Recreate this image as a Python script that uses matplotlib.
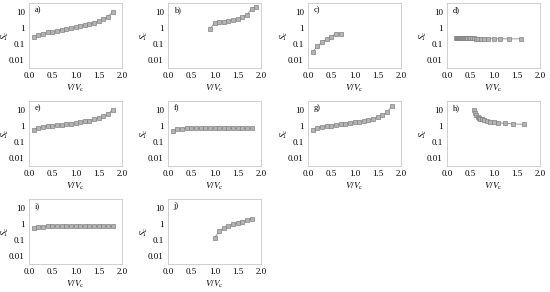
import matplotlib
matplotlib.use("Agg")
import matplotlib.pyplot as plt

plt.rcParams['font.family'] = ['Liberation Serif', 'DejaVu Serif']
plt.rcParams['mathtext.fontset'] = 'stix'

# panel data: V/Vc and Sc
xa = [0.1, 0.2, 0.3, 0.4, 0.5, 0.6, 0.7, 0.8, 0.9, 1.0, 1.1, 1.2, 1.3, 1.4, 1.5, 1.6, 1.7, 1.8]
ya = [0.25, 0.35, 0.42, 0.5, 0.57, 0.65, 0.72, 0.82, 0.95, 1.1, 1.25, 1.45, 1.7, 2.0, 2.5, 3.3, 5.0, 9.5]

xb = [0.9, 1.0, 1.1, 1.2, 1.3, 1.4, 1.5, 1.6, 1.7, 1.8, 1.9]
yb = [0.8, 2.0, 2.2, 2.4, 2.7, 3.0, 3.5, 4.5, 6.5, 15.0, 19.0]

xc = [0.1, 0.2, 0.3, 0.4, 0.5, 0.6, 0.7]
yc = [0.03, 0.07, 0.12, 0.19, 0.28, 0.42, 0.42]

xd = [0.2, 0.205, 0.21, 0.215, 0.22, 0.23, 0.235, 0.24, 0.25, 0.26, 0.27, 0.28,
      0.29, 0.30, 0.31, 0.32, 0.33, 0.35, 0.36, 0.38, 0.4, 0.42, 0.44, 0.47,
      0.5, 0.53, 0.57, 0.62, 0.67, 0.73, 0.8, 0.89, 1.0, 1.14, 1.33, 1.6]
yd = [0.24, 0.24, 0.24, 0.24, 0.24, 0.235, 0.235, 0.235, 0.23, 0.23, 0.23, 0.23,
      0.23, 0.23, 0.225, 0.225, 0.225, 0.225, 0.22, 0.22, 0.22, 0.22, 0.22, 0.22,
      0.215, 0.215, 0.215, 0.21, 0.21, 0.21, 0.21, 0.205, 0.205, 0.2, 0.2, 0.2]

xe = xa
ye = [0.56, 0.75, 0.85, 0.95, 1.0, 1.05, 1.15, 1.25, 1.35, 1.5, 1.65, 1.85, 2.1, 2.5, 3.0, 4.0, 5.5, 10.0]

xf = xa
yf = [0.47, 0.6, 0.66, 0.68, 0.69, 0.7, 0.7, 0.7, 0.7, 0.7, 0.7, 0.69, 0.69, 0.68, 0.68, 0.68, 0.67, 0.67]

xg = xa
yg = [0.55, 0.75, 0.85, 0.95, 1.0, 1.1, 1.2, 1.3, 1.45, 1.6, 1.75, 2.0, 2.3, 2.7, 3.4, 4.5, 7.0, 16.0]

xh = [0.57, 0.6, 0.63, 0.66, 0.69, 0.72, 0.76, 0.8, 0.86, 0.92, 1.0, 1.1, 1.25, 1.42, 1.65]
yh = [9.0, 6.0, 4.5, 3.7, 3.2, 2.8, 2.5, 2.2, 2.0, 1.8, 1.65, 1.5, 1.4, 1.3, 1.2]

xi = xa
yi = [0.5, 0.62, 0.66, 0.68, 0.7, 0.7, 0.7, 0.7, 0.7, 0.7, 0.69, 0.69, 0.68, 0.68, 0.68, 0.67, 0.67, 0.67]

xj = [1.0, 1.1, 1.2, 1.3, 1.4, 1.5, 1.6, 1.7, 1.8]
yj = [0.13, 0.33, 0.55, 0.72, 0.9, 1.1, 1.35, 1.6, 2.1]

panels = [("a)", xa, ya), ("b)", xb, yb), ("c)", xc, yc), ("d)", xd, yd),
          ("e)", xe, ye), ("f)", xf, yf), ("g)", xg, yg), ("h)", xh, yh),
          ("i)", xi, yi), ("j)", xj, yj)]

col_left = [29, 168, 308, 447]
row_top = [3, 101, 199]
W, H = 550.0, 292.0
aw, ah = 93, 65

fig = plt.figure(figsize=(5.5, 2.92), dpi=100)

for k, (lab, x, y) in enumerate(panels):
	r, c = divmod(k, 4)
	ax = fig.add_axes([col_left[c] / W, 1 - (row_top[r] + ah) / H, aw / W, ah / H])
	ax.plot(x, y, color="#8a8a8a", lw=0.6, marker="s", ms=3.4,
	        mfc="#b4b4b4", mec="#808080", mew=0.5)
	ax.set_yscale("log")
	ax.set_xlim(0, 2.0)
	ax.set_ylim(0.003, 35)
	ax.set_xticks([0.0, 0.5, 1.0, 1.5, 2.0])
	ax.set_xticklabels(["0.0", "0.5", "1.0", "1.5", "2.0"])
	ax.set_yticks([0.01, 0.1, 1, 10])
	ax.set_yticklabels(["0.01", "0.1", "1", "10"])
	ax.minorticks_off()
	ax.tick_params(length=0, labelsize=6.5, pad=3)
	for s in ax.spines.values():
		s.set_color("#c8c8c8")
		s.set_linewidth(0.6)
	ax.set_xlabel(r"$V/V_\mathrm{c}$", fontsize=6.5, labelpad=2)
	ax.set_ylabel(r"$S_\mathrm{c}$", fontsize=6.5)
	ax.yaxis.set_label_coords(-18 / aw, 0.5)
	ax.text(0.06, 0.89, lab, transform=ax.transAxes, fontsize=6, va="center")

fig.savefig("out.png", dpi=100)
